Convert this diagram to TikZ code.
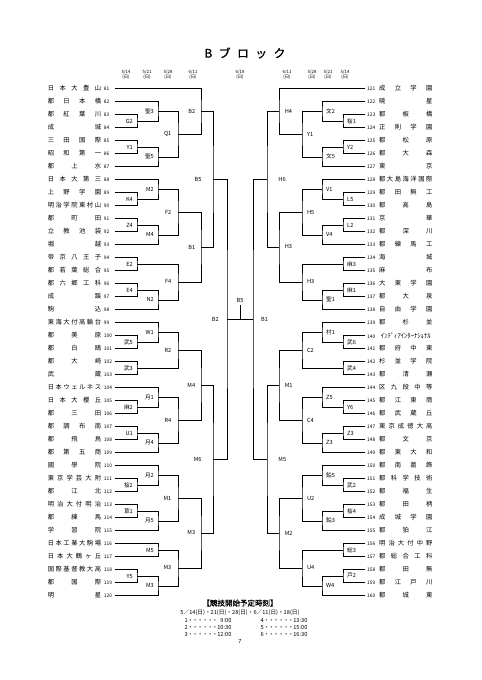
\documentclass[tikz,border=0pt]{standalone}
\usepackage{fontspec}
\setmainfont{Noto Sans CJK JP}
\newfontfamily\hfont{Noto Sans CJK JP}[FakeBold=1.2]
\usetikzlibrary{positioning}

\newlength{\namew}
\setlength{\namew}{66pt}
% name spread over a fixed width, number beside it
\newcommand{\kt}[1]{\makebox[\namew][s]{\spaceskip=0pt plus 1fil\relax#1}}
\newcommand{\tnL}[1]{\hspace{3.5pt}\makebox[13.5pt][l]{\fontsize{6}{6}\selectfont#1}}
\newcommand{\tnR}[1]{\makebox[17.3pt][l]{\hspace{2.5pt}\fontsize{6}{6}\selectfont#1}}
\newcommand{\tlead}[2]{\makebox[58pt]{#1\xleaders\hbox to 5.5pt{\hss・\hss}\hfill\makebox[17pt][r]{#2}}}

\tikzset{
    bline/.style={line width=0.6pt},
    teamL/.style={anchor=east, inner sep=0pt, font=\fontsize{7.8}{8}\selectfont},
    teamR/.style={anchor=west, inner sep=0pt, font=\fontsize{7.8}{8}\selectfont},
    lbl/.style={inner sep=0pt, font=\fontsize{7}{7}\selectfont},
    datel/.style={align=center, inner sep=0pt, font=\fontsize{5.4}{6.8}\selectfont},
    sched/.style={inner sep=0pt, font=\fontsize{7}{7}\selectfont}
}

\begin{document}
\begin{tikzpicture}[x=1.2376pt, y=-1.2376pt]

    \fill[white] (0,0) rectangle (481,680);
    \useasboundingbox (0,0) rectangle (481,680);

    % title and dates
    \node[inner sep=0pt, font=\hfont\fontsize{14.5}{14}\selectfont] (title) at (245,53)
        {\makebox[100pt][s]{\spaceskip=0pt plus 1fil\relax B ブ ロ ッ ク}};
    \node[datel] (d1) at (126,74.5) {5/14\\(日)};
    \node[datel] (d2) at (147,74.5) {5/21\\(日)};
    \node[datel] (d3) at (168,74.5) {5/28\\(日)};
    \node[datel] (d4) at (193,74.5) {6/11\\(日)};
    \node[datel] (d5) at (240,74.5) {6/18\\(日)};
    \node[datel] (d6) at (287,74.5) {6/11\\(日)};
    \node[datel] (d7) at (312,74.5) {5/28\\(日)};
    \node[datel] (d8) at (328,74.5) {5/21\\(日)};
    \node[datel] (d9) at (345,74.5) {5/14\\(日)};

    % left teams
    \node[teamL] (t81) at (115,88.5) {\kt{日 本 大 豊 山}\tnL{81}};
    \node[teamL] (t82) at (115,101.5) {\kt{都 日 本 橋}\tnL{82}};
    \node[teamL] (t83) at (115,114.5) {\kt{都 紅 葉 川}\tnL{83}};
    \node[teamL] (t84) at (115,127.5) {\kt{成 城}\tnL{84}};
    \node[teamL] (t85) at (115,140.5) {\kt{三 田 国 際}\tnL{85}};
    \node[teamL] (t86) at (115,153.5) {\kt{昭 和 第 一}\tnL{86}};
    \node[teamL] (t87) at (115,166.5) {\kt{都 上 水}\tnL{87}};
    \node[teamL] (t88) at (115,179.5) {\kt{日 本 大 第 三}\tnL{88}};
    \node[teamL] (t89) at (115,192.5) {\kt{上 野 学 園}\tnL{89}};
    \node[teamL] (t90) at (115,205.5) {\kt{明 治 学 院 東 村 山}\tnL{90}};
    \node[teamL] (t91) at (115,218.5) {\kt{都 町 田}\tnL{91}};
    \node[teamL] (t92) at (115,231.5) {\kt{立 教 池 袋}\tnL{92}};
    \node[teamL] (t93) at (115,244.5) {\kt{堀 越}\tnL{93}};
    \node[teamL] (t94) at (115,257.5) {\kt{帝 京 八 王 子}\tnL{94}};
    \node[teamL] (t95) at (115,270.5) {\kt{都 若 葉 総 合}\tnL{95}};
    \node[teamL] (t96) at (115,283.5) {\kt{都 六 郷 工 科}\tnL{96}};
    \node[teamL] (t97) at (115,296.5) {\kt{成 蹊}\tnL{97}};
    \node[teamL] (t98) at (115,309.5) {\kt{駒 込}\tnL{98}};
    \node[teamL] (t99) at (115,322.5) {\kt{東 海 大 付 高 輪 台}\tnL{99}};
    \node[teamL] (t100) at (115,335.5) {\kt{都 美 原}\tnL{100}};
    \node[teamL] (t101) at (115,348.5) {\kt{都 白 鴎}\tnL{101}};
    \node[teamL] (t102) at (115,361.5) {\kt{都 大 崎}\tnL{102}};
    \node[teamL] (t103) at (115,374.5) {\kt{武 蔵}\tnL{103}};
    \node[teamL] (t104) at (115,387.5) {\kt{日 本 ウ ェ ル ネ ス}\tnL{104}};
    \node[teamL] (t105) at (115,400.5) {\kt{日 本 大 櫻 丘}\tnL{105}};
    \node[teamL] (t106) at (115,413.5) {\kt{都 三 田}\tnL{106}};
    \node[teamL] (t107) at (115,426.5) {\kt{都 調 布 南}\tnL{107}};
    \node[teamL] (t108) at (115,439.5) {\kt{都 飛 鳥}\tnL{108}};
    \node[teamL] (t109) at (115,452.5) {\kt{都 第 五 商}\tnL{109}};
    \node[teamL] (t110) at (115,465.5) {\kt{國 學 院}\tnL{110}};
    \node[teamL] (t111) at (115,478.5) {\kt{東 京 学 芸 大 附}\tnL{111}};
    \node[teamL] (t112) at (115,491.5) {\kt{都 江 北}\tnL{112}};
    \node[teamL] (t113) at (115,504.5) {\kt{明 治 大 付 明 治}\tnL{113}};
    \node[teamL] (t114) at (115,517.5) {\kt{都 練 馬}\tnL{114}};
    \node[teamL] (t115) at (115,530.5) {\kt{学 習 院}\tnL{115}};
    \node[teamL] (t116) at (115,543.5) {\kt{日 本 工 業 大 駒 場}\tnL{116}};
    \node[teamL] (t117) at (115,556.5) {\kt{日 本 大 鶴 ヶ 丘}\tnL{117}};
    \node[teamL] (t118) at (115,569.5) {\kt{国 際 基 督 教 大 高}\tnL{118}};
    \node[teamL] (t119) at (115,582.5) {\kt{都 国 際}\tnL{119}};
    \node[teamL] (t120) at (115,595.5) {\kt{明 星}\tnL{120}};

    % right teams
    \node[teamR] (t121) at (365,88.5) {\tnR{121}\kt{成 立 学 園}};
    \node[teamR] (t122) at (365,101.5) {\tnR{122}\kt{暁 星}};
    \node[teamR] (t123) at (365,114.5) {\tnR{123}\kt{都 板 橋}};
    \node[teamR] (t124) at (365,127.5) {\tnR{124}\kt{正 則 学 園}};
    \node[teamR] (t125) at (365,140.5) {\tnR{125}\kt{都 松 原}};
    \node[teamR] (t126) at (365,153.5) {\tnR{126}\kt{都 大 森}};
    \node[teamR] (t127) at (365,166.5) {\tnR{127}\kt{東 京}};
    \node[teamR] (t128) at (365,179.5) {\tnR{128}\kt{都 大 島 海 洋 国 際}};
    \node[teamR] (t129) at (365,192.5) {\tnR{129}\kt{都 田 無 工}};
    \node[teamR] (t130) at (365,205.5) {\tnR{130}\kt{都 高 島}};
    \node[teamR] (t131) at (365,218.5) {\tnR{131}\kt{京 華}};
    \node[teamR] (t132) at (365,231.5) {\tnR{132}\kt{都 深 川}};
    \node[teamR] (t133) at (365,244.5) {\tnR{133}\kt{都 練 馬 工}};
    \node[teamR] (t134) at (365,257.5) {\tnR{134}\kt{海 城}};
    \node[teamR] (t135) at (365,270.5) {\tnR{135}\kt{麻 布}};
    \node[teamR] (t136) at (365,283.5) {\tnR{136}\kt{大 東 学 園}};
    \node[teamR] (t137) at (365,296.5) {\tnR{137}\kt{都 大 泉}};
    \node[teamR] (t138) at (365,309.5) {\tnR{138}\kt{自 由 学 園}};
    \node[teamR] (t139) at (365,322.5) {\tnR{139}\kt{都 杉 並}};
    \node[teamR] (t140) at (365,335.5) {\tnR{140}\makebox[\namew]{\fontsize{8.2}{8}\selectfont ｲﾝﾃﾞｨｱｲﾝﾀｰﾅｼｮﾅﾙ}};
    \node[teamR] (t141) at (365,348.5) {\tnR{141}\kt{都 府 中 東}};
    \node[teamR] (t142) at (365,361.5) {\tnR{142}\kt{杉 並 学 院}};
    \node[teamR] (t143) at (365,374.5) {\tnR{143}\kt{都 清 瀬}};
    \node[teamR] (t144) at (365,387.5) {\tnR{144}\kt{区 九 段 中 等}};
    \node[teamR] (t145) at (365,400.5) {\tnR{145}\kt{都 江 東 商}};
    \node[teamR] (t146) at (365,413.5) {\tnR{146}\kt{都 武 蔵 丘}};
    \node[teamR] (t147) at (365,426.5) {\tnR{147}\kt{東 京 成 徳 大 高}};
    \node[teamR] (t148) at (365,439.5) {\tnR{148}\kt{都 文 京}};
    \node[teamR] (t149) at (365,452.5) {\tnR{149}\kt{都 東 大 和}};
    \node[teamR] (t150) at (365,465.5) {\tnR{150}\kt{都 南 葛 飾}};
    \node[teamR] (t151) at (365,478.5) {\tnR{151}\kt{都 科 学 技 術}};
    \node[teamR] (t152) at (365,491.5) {\tnR{152}\kt{都 福 生}};
    \node[teamR] (t153) at (365,504.5) {\tnR{153}\kt{都 田 柄}};
    \node[teamR] (t154) at (365,517.5) {\tnR{154}\kt{成 城 学 園}};
    \node[teamR] (t155) at (365,530.5) {\tnR{155}\kt{都 狛 江}};
    \node[teamR] (t156) at (365,543.5) {\tnR{156}\kt{明 治 大 付 中 野}};
    \node[teamR] (t157) at (365,556.5) {\tnR{157}\kt{都 総 合 工 科}};
    \node[teamR] (t158) at (365,569.5) {\tnR{158}\kt{都 田 無}};
    \node[teamR] (t159) at (365,582.5) {\tnR{159}\kt{都 江 戸 川}};
    \node[teamR] (t160) at (365,595.5) {\tnR{160}\kt{都 城 東}};

    % left bracket
    \coordinate (lG2) at (137,121);
    \draw[bline] (t83) -| (lG2) |- (t84);
    \node[lbl, left=5pt of lG2] {G2};
    \coordinate (lS3) at (158,111.25);
    \draw[bline] (t82) -| (lS3) |- (lG2);
    \node[lbl, left=5pt of lS3] {聖3};
    \coordinate (lY1) at (137,147);
    \draw[bline] (t85) -| (lY1) |- (t86);
    \node[lbl, left=5pt of lY1] {Y1};
    \coordinate (lS5) at (158,156.75);
    \draw[bline] (lY1) -| (lS5) |- (t87);
    \node[lbl, left=5pt of lS5] {聖5};
    \coordinate (lQ1) at (178,134);
    \draw[bline] (lS3) -| (lQ1) |- (lS5);
    \node[lbl, left=8pt of lQ1] {Q1};
    \coordinate (lB2a) at (201,111.25);
    \draw[bline] (t81) -| (lB2a) |- (lQ1);
    \node[lbl, left=7pt of lB2a] {B2};

    \coordinate (lK4) at (137,199);
    \draw[bline] (t89) -| (lK4) |- (t90);
    \node[lbl, left=5pt of lK4] {K4};
    \coordinate (lM2) at (158,189.25);
    \draw[bline] (t88) -| (lM2) |- (lK4);
    \node[lbl, left=5pt of lM2] {M2};
    \coordinate (lZ4) at (137,225);
    \draw[bline] (t91) -| (lZ4) |- (t92);
    \node[lbl, left=5pt of lZ4] {Z4};
    \coordinate (lM4a) at (158,234.75);
    \draw[bline] (lZ4) -| (lM4a) |- (t93);
    \node[lbl, left=5pt of lM4a] {M4};
    \coordinate (lF2) at (178,212);
    \draw[bline] (lM2) -| (lF2) |- (lM4a);
    \node[lbl, left=8pt of lF2] {F2};

    \coordinate (lE2) at (137,264);
    \draw[bline] (t94) -| (lE2) |- (t95);
    \node[lbl, left=5pt of lE2] {E2};
    \coordinate (lE4) at (137,290);
    \draw[bline] (t96) -| (lE4) |- (t97);
    \node[lbl, left=5pt of lE4] {E4};
    \coordinate (lN2) at (158,299.75);
    \draw[bline] (lE4) -| (lN2) |- (t98);
    \node[lbl, left=5pt of lN2] {N2};
    \coordinate (lF4) at (178,281.88);
    \draw[bline] (lE2) -| (lF4) |- (lN2);
    \node[lbl, left=8pt of lF4] {F4};
    \coordinate (lB1) at (201,246.94);
    \draw[bline] (lF2) -| (lB1) |- (lF4);
    \node[lbl, left=7pt of lB1] {B1};
    \coordinate (lB5) at (213,179.09);
    \draw[bline] (lB2a) -| (lB5) |- (lB1);
    \node[lbl, left=14pt of lB5] {B5};

    \coordinate (lBu5) at (137,342);
    \draw[bline] (t100) -| (lBu5) |- (t101);
    \node[lbl, left=5pt of lBu5] {武5};
    \coordinate (lW1) at (158,332.25);
    \draw[bline] (t99) -| (lW1) |- (lBu5);
    \node[lbl, left=5pt of lW1] {W1};
    \coordinate (lBu3) at (137,368);
    \draw[bline] (t102) -| (lBu3) |- (t103);
    \node[lbl, left=5pt of lBu3] {武3};
    \coordinate (lR2) at (178,350.13);
    \draw[bline] (lW1) -| (lR2) |- (lBu3);
    \node[lbl, left=8pt of lR2] {R2};

    \coordinate (lA2) at (137,407);
    \draw[bline] (t105) -| (lA2) |- (t106);
    \node[lbl, left=5pt of lA2] {麻2};
    \coordinate (lT1) at (158,397.25);
    \draw[bline] (t104) -| (lT1) |- (lA2);
    \node[lbl, left=5pt of lT1] {月1};
    \coordinate (lU1) at (137,433);
    \draw[bline] (t107) -| (lU1) |- (t108);
    \node[lbl, left=5pt of lU1] {U1};
    \coordinate (lT4) at (158,442.75);
    \draw[bline] (lU1) -| (lT4) |- (t109);
    \node[lbl, left=5pt of lT4] {月4};
    \coordinate (lR4) at (178,420);
    \draw[bline] (lT1) -| (lR4) |- (lT4);
    \node[lbl, left=8pt of lR4] {R4};
    \coordinate (lM4) at (201,385.06);
    \draw[bline] (lR2) -| (lM4) |- (lR4);
    \node[lbl, left=7pt of lM4] {M4};

    \coordinate (lSk2) at (137,485);
    \draw[bline] (t111) -| (lSk2) |- (t112);
    \node[lbl, left=5pt of lSk2] {桜2};
    \coordinate (lT2) at (158,475.25);
    \draw[bline] (t110) -| (lT2) |- (lSk2);
    \node[lbl, left=5pt of lT2] {月2};
    \coordinate (lKs1) at (137,511);
    \draw[bline] (t113) -| (lKs1) |- (t114);
    \node[lbl, left=5pt of lKs1] {草1};
    \coordinate (lT5) at (158,520.75);
    \draw[bline] (lKs1) -| (lT5) |- (t115);
    \node[lbl, left=5pt of lT5] {月5};
    \coordinate (lM1) at (178,498);
    \draw[bline] (lT2) -| (lM1) |- (lT5);
    \node[lbl, left=8pt of lM1] {M1};

    \coordinate (lM5) at (158,550);
    \draw[bline] (t116) -| (lM5) |- (t117);
    \node[lbl, left=5pt of lM5] {M5};
    \coordinate (lY5) at (137,576);
    \draw[bline] (t118) -| (lY5) |- (t119);
    \node[lbl, left=5pt of lY5] {Y5};
    \coordinate (lM3c) at (158,585.75);
    \draw[bline] (lY5) -| (lM3c) |- (t120);
    \node[lbl, left=5pt of lM3c] {M3};
    \coordinate (lM3b) at (178,567.88);
    \draw[bline] (lM5) -| (lM3b) |- (lM3c);
    \node[lbl, left=8pt of lM3b] {M3};
    \coordinate (lM3a) at (201,532.94);
    \draw[bline] (lM1) -| (lM3a) |- (lM3b);
    \node[lbl, left=7pt of lM3a] {M3};
    \coordinate (lM6) at (213,459);
    \draw[bline] (lM4) -| (lM6) |- (lM3a);
    \node[lbl, left=14pt of lM6] {M6};
    \coordinate (lB2) at (227,319.05);
    \draw[bline] (lB5) -| (lB2) |- (lM6);
    \node[lbl, left=10pt of lB2] {B2};

    % right bracket
    \coordinate (rSk1) at (343,121);
    \draw[bline] (t123) -| (rSk1) |- (t124);
    \node[lbl, right=5pt of rSk1] {桜1};
    \coordinate (rBn2) at (322,111.25);
    \draw[bline] (t122) -| (rBn2) |- (rSk1);
    \node[lbl, right=5pt of rBn2] {文2};
    \coordinate (rY2) at (343,147);
    \draw[bline] (t125) -| (rY2) |- (t126);
    \node[lbl, right=5pt of rY2] {Y2};
    \coordinate (rBn5) at (322,156.75);
    \draw[bline] (rY2) -| (rBn5) |- (t127);
    \node[lbl, right=5pt of rBn5] {文5};
    \coordinate (rY1) at (302,134);
    \draw[bline] (rBn2) -| (rY1) |- (rBn5);
    \node[lbl, right=6pt of rY1] {Y1};
    \coordinate (rH4) at (279,111.25);
    \draw[bline] (t121) -| (rH4) |- (rY1);
    \node[lbl, right=7pt of rH4] {H4};

    \coordinate (rL5) at (343,199);
    \draw[bline] (t129) -| (rL5) |- (t130);
    \node[lbl, right=5pt of rL5] {L5};
    \coordinate (rV1) at (322,189.25);
    \draw[bline] (t128) -| (rV1) |- (rL5);
    \node[lbl, right=5pt of rV1] {V1};
    \coordinate (rL2) at (343,225);
    \draw[bline] (t131) -| (rL2) |- (t132);
    \node[lbl, right=5pt of rL2] {L2};
    \coordinate (rV4) at (322,234.75);
    \draw[bline] (rL2) -| (rV4) |- (t133);
    \node[lbl, right=5pt of rV4] {V4};
    \coordinate (rH5) at (302,212);
    \draw[bline] (rV1) -| (rH5) |- (rV4);
    \node[lbl, right=6pt of rH5] {H5};

    \coordinate (rA3) at (343,264);
    \draw[bline] (t134) -| (rA3) |- (t135);
    \node[lbl, right=5pt of rA3] {麻3};
    \coordinate (rA1) at (343,290);
    \draw[bline] (t136) -| (rA1) |- (t137);
    \node[lbl, right=5pt of rA1] {麻1};
    \coordinate (rS1) at (322,299.75);
    \draw[bline] (rA1) -| (rS1) |- (t138);
    \node[lbl, right=5pt of rS1] {聖1};
    \coordinate (rH3b) at (302,281.88);
    \draw[bline] (rA3) -| (rH3b) |- (rS1);
    \node[lbl, right=6pt of rH3b] {H3};
    \coordinate (rH3a) at (279,246.94);
    \draw[bline] (rH5) -| (rH3a) |- (rH3b);
    \node[lbl, right=7pt of rH3a] {H3};
    \coordinate (rH6) at (267,179.09);
    \draw[bline] (rH4) -| (rH6) |- (rH3a);
    \node[lbl, right=14pt of rH6] {H6};

    \coordinate (rBu6) at (343,342);
    \draw[bline] (t140) -| (rBu6) |- (t141);
    \node[lbl, right=5pt of rBu6] {武6};
    \coordinate (rMu1) at (322,332.25);
    \draw[bline] (t139) -| (rMu1) |- (rBu6);
    \node[lbl, right=5pt of rMu1] {村1};
    \coordinate (rBu4) at (343,368);
    \draw[bline] (t142) -| (rBu4) |- (t143);
    \node[lbl, right=5pt of rBu4] {武4};
    \coordinate (rC2) at (302,350.13);
    \draw[bline] (rMu1) -| (rC2) |- (rBu4);
    \node[lbl, right=6pt of rC2] {C2};

    \coordinate (rY6) at (343,407);
    \draw[bline] (t145) -| (rY6) |- (t146);
    \node[lbl, right=5pt of rY6] {Y6};
    \coordinate (rZ5) at (322,397.25);
    \draw[bline] (t144) -| (rZ5) |- (rY6);
    \node[lbl, right=5pt of rZ5] {Z5};
    \coordinate (rZ3b) at (343,433);
    \draw[bline] (t147) -| (rZ3b) |- (t148);
    \node[lbl, right=5pt of rZ3b] {Z3};
    \coordinate (rZ3a) at (322,442.75);
    \draw[bline] (rZ3b) -| (rZ3a) |- (t149);
    \node[lbl, right=5pt of rZ3a] {Z3};
    \coordinate (rC4) at (302,420);
    \draw[bline] (rZ5) -| (rC4) |- (rZ3a);
    \node[lbl, right=6pt of rC4] {C4};
    \coordinate (rM1) at (279,385.06);
    \draw[bline] (rC2) -| (rM1) |- (rC4);
    \node[lbl, right=7pt of rM1] {M1};

    \coordinate (rBu2) at (343,485);
    \draw[bline] (t151) -| (rBu2) |- (t152);
    \node[lbl, right=5pt of rBu2] {武2};
    \coordinate (rE5) at (322,475.25);
    \draw[bline] (t150) -| (rE5) |- (rBu2);
    \node[lbl, right=5pt of rE5] {鉛5};
    \coordinate (rSk4) at (343,511);
    \draw[bline] (t153) -| (rSk4) |- (t154);
    \node[lbl, right=5pt of rSk4] {桜4};
    \coordinate (rE3) at (322,520.75);
    \draw[bline] (rSk4) -| (rE3) |- (t155);
    \node[lbl, right=5pt of rE3] {鉛3};
    \coordinate (rU2) at (302,498);
    \draw[bline] (rE5) -| (rU2) |- (rE3);
    \node[lbl, right=6pt of rU2] {U2};

    \coordinate (rSo3) at (343,550);
    \draw[bline] (t156) -| (rSo3) |- (t157);
    \node[lbl, right=5pt of rSo3] {総3};
    \coordinate (rTo2) at (343,576);
    \draw[bline] (t158) -| (rTo2) |- (t159);
    \node[lbl, right=5pt of rTo2] {戸2};
    \coordinate (rW4) at (322,585.75);
    \draw[bline] (rTo2) -| (rW4) |- (t160);
    \node[lbl, right=5pt of rW4] {W4};
    \coordinate (rU4) at (302,567.88);
    \draw[bline] (rSo3) -| (rU4) |- (rW4);
    \node[lbl, right=6pt of rU4] {U4};
    \coordinate (rM2) at (279,532.94);
    \draw[bline] (rU2) -| (rM2) |- (rU4);
    \node[lbl, right=7pt of rM2] {M2};
    \coordinate (rM5) at (267,459);
    \draw[bline] (rM1) -| (rM5) |- (rM2);
    \node[lbl, right=14pt of rM5] {M5};
    \coordinate (rB1) at (253,319.05);
    \draw[bline] (rH6) -| (rB1) |- (rM5);
    \node[lbl, right=10pt of rB1] {B1};

    % final
    \coordinate (fin) at (240,319.05);
    \coordinate (finT) at (240,305);
    \draw[bline] (lB2) -- (rB1);
    \draw[bline] (fin) -- (finT);
    \node[lbl, above=3pt of finT] {B5};

    % start times
    \node[sched, font=\hfont\fontsize{9.3}{9}\selectfont] (hd) at (240,603) {【競技開始予定時刻】};
    \node[sched] (days) at (240,612.5) {5／14(日)・21(日)・28(日)・6／11(日)・18(日)};
    \node[sched] (s1) at (208,620) {\tlead{1}{9:00}};
    \node[sched] (s2) at (208,627) {\tlead{2}{10:30}};
    \node[sched] (s3) at (208,634) {\tlead{3}{12:00}};
    \node[sched] (s4) at (284,620) {\tlead{4}{13:30}};
    \node[sched] (s5) at (284,627) {\tlead{5}{15:00}};
    \node[sched] (s6) at (284,634) {\tlead{6}{16:30}};
    \node[sched] (pg) at (240,641.5) {7};

\end{tikzpicture}
\end{document}
